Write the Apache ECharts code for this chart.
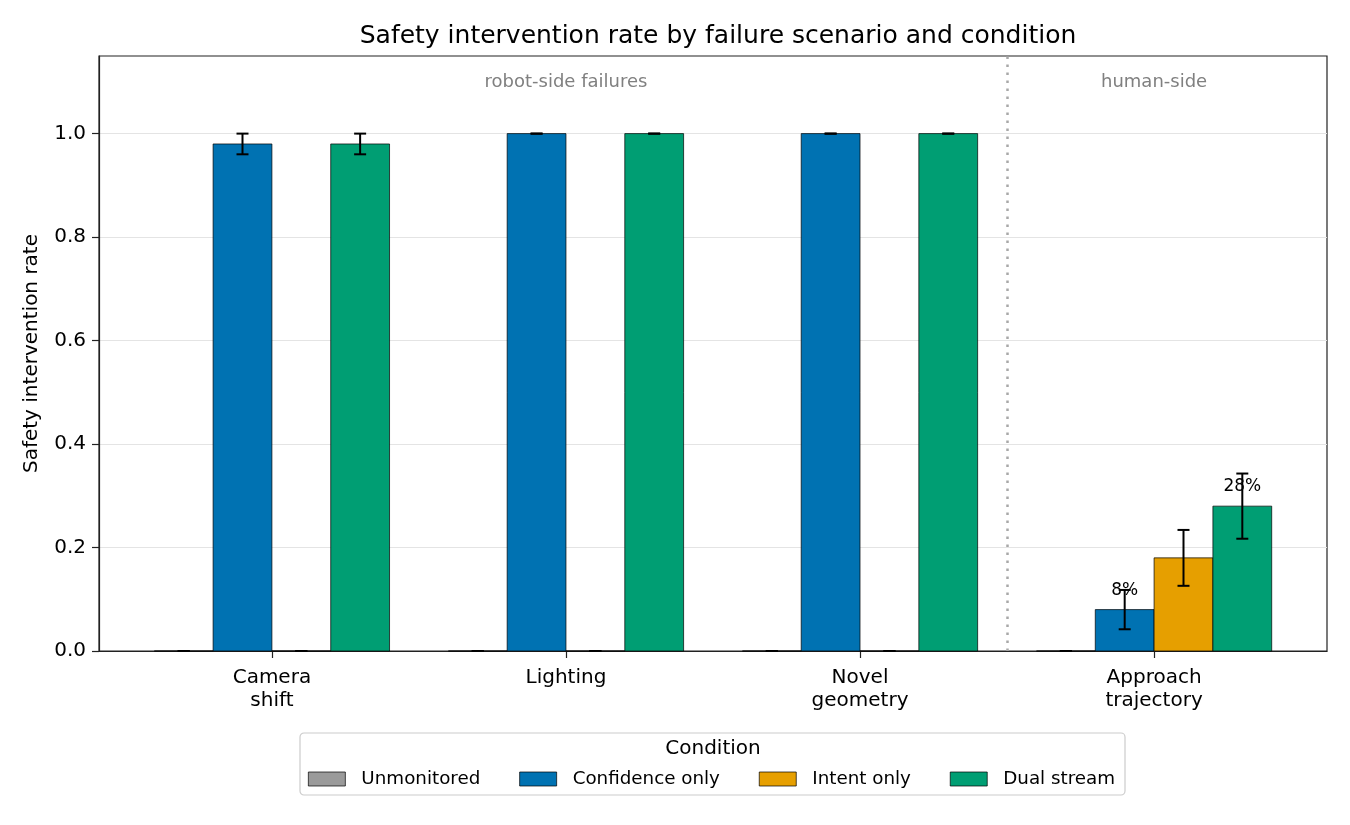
<!DOCTYPE html>
<html><head><meta charset="utf-8">
<script src="https://cdn.jsdelivr.net/npm/echarts@6/dist/echarts.min.js"></script>
<style>html,body{margin:0;padding:0;background:#fff}#c{width:1350px;height:825px}</style>
</head><body><div id="c"></div>
<script>
// ---- data ----
const categories = ['Camera\nshift', 'Lighting', 'Novel\ngeometry', 'Approach\ntrajectory'];
const conditions = ['Unmonitored', 'Confidence only', 'Intent only', 'Dual stream'];
const unmonitored    = [0, 0, 0, 0];
const confidenceOnly = [0.98, 1.0, 1.0, 0.08];
const intentOnly     = [0, 0, 0, 0.18];
const dualStream     = [0.98, 1.0, 1.0, 0.28];
const unmonitoredErr = [0, 0, 0, 0];
const confidenceErr  = [0.02, 0, 0, 0.038];
const intentErr      = [0, 0, 0, 0.054];
const dualErr        = [0.02, 0, 0, 0.063];
const unmonitoredLabels = ['', '', '', ''];
const confidenceLabels  = ['', '', '', '8%'];
const intentLabels      = ['', '', '', ''];
const dualLabels        = ['', '', '', '28%'];
const yTicks = [0, 0.2, 0.4, 0.6, 0.8, 1.0];
const xTicks = [0, 1, 2, 3];
const regionNames = ['robot-side failures', 'human-side'];
const regionCenters = [1, 3];
const dividerAt = 2.5;

// ---- styling ----
const FONT = 'DejaVu Sans';
const colors = ['#9a9a9a', '#0072B2', '#E69F00', '#009E73'];
const BW = 0.2;
const offsets = [-0.3, -0.1, 0.1, 0.3];

function barSeries(idx, vals, errs, labels) {
  const color = colors[idx], off = offsets[idx];
  return {
    type: 'custom', name: conditions[idx], z: 5,
    itemStyle: { color: color, borderColor: '#000', borderWidth: 0.7 },
    encode: { x: 0, y: 1 },
    data: vals.map((v, i) => [i, v]),
    renderItem: function (params, api) {
      const i = params.dataIndex;
      const c = api.value(0) + off;
      const v = api.value(1);
      const e = errs[i];
      const p0 = api.coord([c - BW / 2, v]);
      const p1 = api.coord([c + BW / 2, 0]);
      const pt = api.coord([c, v + e]);
      const pb = api.coord([c, v - e]);
      const cx = pt[0];
      const ch = [
        { type: 'rect', shape: { x: p0[0], y: p0[1], width: p1[0] - p0[0], height: p1[1] - p0[1] },
          style: { fill: color, stroke: '#000', lineWidth: 0.7 } },
        { type: 'line', shape: { x1: cx, y1: pt[1], x2: cx, y2: pb[1] }, style: { stroke: '#000', lineWidth: 2 } },
        { type: 'line', shape: { x1: cx - 6, y1: pt[1], x2: cx + 6, y2: pt[1] }, style: { stroke: '#000', lineWidth: 2 } },
        { type: 'line', shape: { x1: cx - 6, y1: pb[1], x2: cx + 6, y2: pb[1] }, style: { stroke: '#000', lineWidth: 2 } }
      ];
      if (labels[i]) {
        ch.push({ type: 'text', x: cx, y: p0[1] - 19.5,
          style: { text: labels[i], fill: '#000', font: '17px "' + FONT + '"', align: 'center', verticalAlign: 'middle' } });
      }
      return { type: 'group', children: ch };
    }
  };
}

const chart = echarts.init(document.getElementById('c'), null, { renderer: 'canvas' });
const series = [
  barSeries(0, unmonitored, unmonitoredErr, unmonitoredLabels),
  barSeries(1, confidenceOnly, confidenceErr, confidenceLabels),
  barSeries(2, intentOnly, intentErr, intentLabels),
  barSeries(3, dualStream, dualErr, dualLabels),
  {
    type: 'custom', name: 'regions', z: 4, silent: true,
    encode: { x: 0, y: 1 },
    data: regionCenters.map(x => [x, 1.099]),
    renderItem: function (params, api) {
      const p = api.coord([api.value(0), api.value(1)]);
      return { type: 'text', x: p[0], y: p[1],
        style: { text: regionNames[params.dataIndex], fill: '#808080', font: '18px "' + FONT + '"', align: 'center', verticalAlign: 'middle' } };
    },
    markLine: {
      silent: true, symbol: 'none', label: { show: false },
      lineStyle: { color: '#a8a8a8', type: [2.5, 5.5], width: 2.5 },
      data: [{ xAxis: dividerAt }]
    }
  }
];

chart.setOption({
  animation: false,
  backgroundColor: '#fff',
  textStyle: { fontFamily: FONT },
  title: {
    text: 'Safety intervention rate by failure scenario and condition',
    left: 713, top: 19, textAlign: 'center',
    textStyle: { fontFamily: FONT, fontSize: 25, fontWeight: 'normal', color: '#000' }
  },
  grid: { left: 99, right: 23, top: 56, bottom: 174, show: true, borderColor: '#222', borderWidth: 1.2, backgroundColor: 'transparent' },
  xAxis: {
    type: 'value', min: -0.588, max: 3.588,
    axisLine: { show: true, onZero: false, lineStyle: { color: '#222', width: 1.2 } },
    axisTick: { show: true, length: 7, lineStyle: { color: '#222', width: 1.2 }, customValues: xTicks },
    axisLabel: { customValues: xTicks, margin: 15, fontSize: 20, lineHeight: 23, color: '#000', fontFamily: FONT,
      formatter: v => categories[Math.round(v)] },
    splitLine: { show: false }
  },
  yAxis: {
    type: 'value', min: 0, max: 1.15,
    name: 'Safety intervention rate', nameLocation: 'middle', nameGap: 57,
    nameTextStyle: { fontSize: 20, color: '#000', fontFamily: FONT },
    axisLine: { show: true, onZero: false, lineStyle: { color: '#222', width: 1.2 } },
    axisTick: { show: true, length: 7, lineStyle: { color: '#222', width: 1.2 }, customValues: yTicks },
    axisLabel: { customValues: yTicks, margin: 13, fontSize: 20, color: '#000', fontFamily: FONT,
      padding: [3, 0, 0, 0], formatter: v => v.toFixed(1) },
    splitLine: { show: true, lineStyle: { color: '#e4e4e4', width: 1 } }
  },
  legend: {
    data: conditions, selectedMode: false, left: 308, top: 770, padding: 0,
    icon: 'rect', itemWidth: 37, itemHeight: 14, itemGap: 39,
    itemStyle: { borderColor: '#000', borderWidth: 0.7 },
    textStyle: { fontSize: 18.3, color: '#000', fontFamily: FONT, padding: [0, 0, 0, 11] }
  },
  graphic: [
    { type: 'rect', x: 300, y: 733, z: -1, shape: { x: 0, y: 0, width: 825, height: 62, r: 4 },
      style: { fill: '#fff', stroke: '#cccccc', lineWidth: 1.2 } },
    { type: 'text', x: 713, y: 749, style: { text: 'Condition', fill: '#000', font: '20px "' + FONT + '"', align: 'center', verticalAlign: 'middle' } }
  ],
  series: series
});
</script></body></html>
